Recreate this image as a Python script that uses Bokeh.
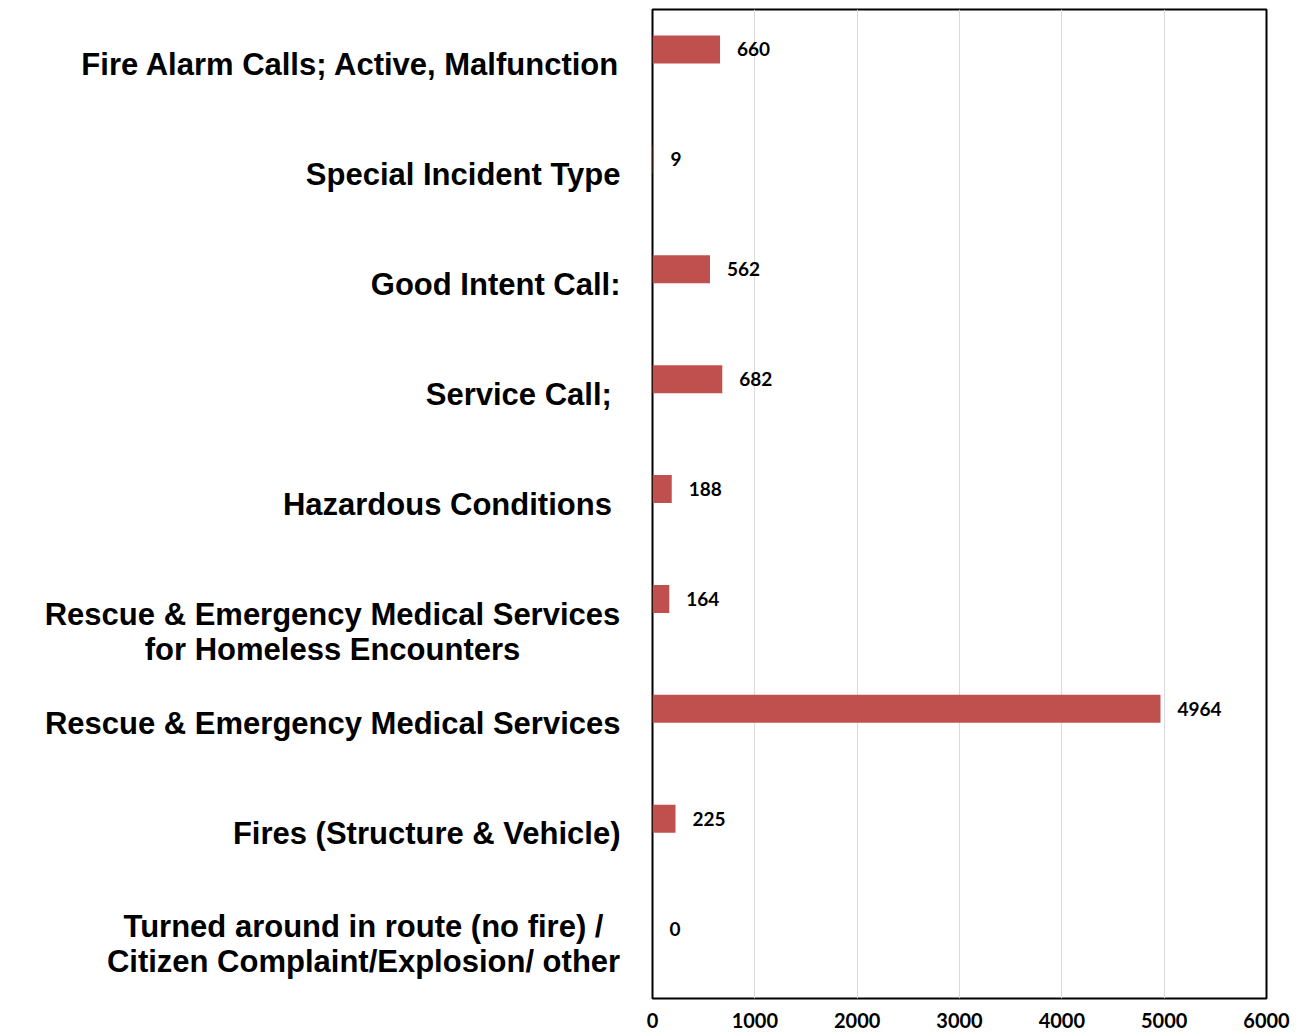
from bokeh.plotting import figure
from bokeh.layouts import row
from bokeh.models import FactorRange, Range1d, FixedTicker, ColumnDataSource
from bokeh.transform import dodge
from bokeh.core.properties import value
from bokeh.embed import file_html
from bokeh.resources import INLINE

# ---- data ----
categories = [
    "Fire Alarm Calls; Active, Malfunction",
    "Special Incident Type",
    "Good Intent Call:",
    "Service Call; ",
    "Hazardous Conditions ",
    "Rescue & Emergency Medical Services\nfor Homeless Encounters",
    "Rescue & Emergency Medical Services",
    "Fires (Structure & Vehicle)",
    "Turned around in route (no fire) /\nCitizen Complaint/Explosion/ other",
]
counts = [660, 9, 562, 682, 188, 164, 4964, 225, 0]
x_ticks = [0, 1000, 2000, 3000, 4000, 5000, 6000]

BAR = "#C0504D"
LABEL_FONT = "Liberation Sans"
NUM_FONT = "Lato"

H = 1036
TOP = 9
BOTTOM = 38
LEFT_W = 632

y_range = FactorRange(factors=list(reversed(categories)), range_padding=0)

# ---- bar figure ----
p = figure(width=669, height=H, y_range=y_range, x_range=Range1d(0, 6000),
           output_backend="svg", toolbar_location=None,
           min_border_left=20, min_border_right=35, min_border_top=TOP,
           min_border_bottom=BOTTOM)
p.outline_line_color = "black"
p.outline_line_width = 2
p.yaxis.visible = False
p.ygrid.grid_line_color = None
p.xgrid.grid_line_color = "#D9D9D9"
p.xgrid.grid_line_width = 1
p.xaxis.ticker = FixedTicker(ticks=x_ticks)
p.xaxis.axis_line_color = None
p.xaxis.major_tick_line_color = None
p.xaxis.minor_tick_line_color = None
p.xaxis.major_tick_out = 0
p.xaxis.major_tick_in = 0
p.xaxis.major_label_standoff = 14
p.xaxis.major_label_text_font = NUM_FONT
p.xaxis.major_label_text_font_style = "bold"
p.xaxis.major_label_text_font_size = "20px"
p.xaxis.major_label_text_color = "black"

src = ColumnDataSource(dict(cat=categories, count=counts,
                            lab=[str(c) for c in counts]))
ydodge = dodge("cat", 0.136, range=y_range)
p.hbar(y=ydodge, right="count", left=0, height=0.255, source=src,
       fill_color=BAR, line_color=None)
p.text(x="count", y=ydodge, text="lab", source=src, x_offset=17,
       text_baseline="middle", text_align="left",
       text_font=value(NUM_FONT), text_font_style="bold",
       text_font_size="19px", text_color="black")

# ---- category label figure ----
lp = figure(width=LEFT_W, height=H, y_range=y_range, x_range=Range1d(0, LEFT_W),
            output_backend="svg", toolbar_location=None,
            min_border_left=0, min_border_right=0, min_border_top=TOP,
            min_border_bottom=BOTTOM)
lp.outline_line_color = None
lp.grid.grid_line_color = None
lp.yaxis.visible = False
lp.xaxis.ticker = FixedTicker(ticks=[300])
lp.xaxis.axis_line_color = None
lp.xaxis.major_tick_line_color = None
lp.xaxis.major_tick_out = 0
lp.xaxis.major_tick_in = 0
lp.xaxis.major_label_standoff = 14
lp.xaxis.major_label_text_font = NUM_FONT
lp.xaxis.major_label_text_font_style = "bold"
lp.xaxis.major_label_text_font_size = "20px"
lp.xaxis.major_label_text_alpha = 0

single = [c for c in categories if "\n" not in c]
multi = [c for c in categories if "\n" in c]
multi_x = {categories[5]: 332, categories[8]: 363}
multi_dy = {categories[5]: 18, categories[8]: 0}

s1 = ColumnDataSource(dict(cat=single, x=[620] * len(single)))
lp.text(x="x", y="cat", text="cat", source=s1, text_align="right",
        text_baseline="middle", text_font=value(LABEL_FONT),
        text_font_style="bold", text_font_size="31px", text_color="black")
s2 = ColumnDataSource(dict(cat=multi, x=[multi_x[c] for c in multi],
                           dy=[multi_dy[c] for c in multi]))
lp.text(x="x", y="cat", text="cat", source=s2, y_offset="dy",
        text_align="center", text_baseline="middle", text_line_height=1.0,
        text_font=value(LABEL_FONT), text_font_style="bold",
        text_font_size="31px", text_color="black")

layout = row(lp, p)
open("out.html", "w").write(file_html(layout, INLINE))
